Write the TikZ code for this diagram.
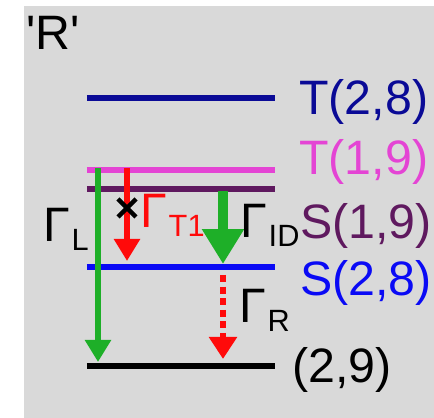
\documentclass[tikz,border=0pt]{standalone}
\usepackage{fontspec}
\setmainfont{Liberation Sans}[Ligatures=TeXOff]
\usetikzlibrary{calc}
\usetikzlibrary{arrows.meta}
\definecolor{bggray}{RGB}{217,217,217}
\definecolor{navylevel}{RGB}{10,10,150}
\definecolor{pinklevel}{RGB}{228,68,212}
\definecolor{plumlevel}{RGB}{95,25,95}
\definecolor{bluelevel}{RGB}{10,10,245}
\definecolor{ratered}{RGB}{255,10,10}
\definecolor{rategreen}{RGB}{30,175,40}
\newcommand{\bigtxt}{\fontsize{27.5}{30}\selectfont}
\newcommand{\subtxt}{\fontsize{17.5}{20}\selectfont}
\newcommand{\rate}[1]{Γ\kern1pt\raisebox{-5pt}{\subtxt #1}}

\begin{document}
\begin{tikzpicture}[x=0.02cm, y=-0.02cm,
  every node/.style={font=\bigtxt, inner sep=0pt, anchor=base west},
  level/.style={line width=3.7pt},
  thinrate/.style={line width=3.9pt, -{Triangle[width=0.5cm,length=0.44cm]}},
  thickrate/.style={line width=6.2pt, -{Triangle[width=0.8cm,length=0.7cm]}},
  dotrate/.style={line width=3.9pt, dash pattern=on 4pt off 2.6pt, -{Triangle[width=0.54cm,length=0.44cm]}}]
	\useasboundingbox (0,0) rectangle (434,418);
	\fill[bggray] (24,6) rectangle (434,418);
	\node (tag) at (26,50) {'R'};

	% levels
	\draw[level, navylevel] (87,98) coordinate (t28w) -- (275,98) coordinate (t28e);
	\draw[level, pinklevel] (87,170) coordinate (t19w) -- (275,170) coordinate (t19e);
	\draw[level, plumlevel] (87,189) coordinate (s19w) -- (275,189) coordinate (s19e);
	\draw[level, bluelevel] (87,267) coordinate (s28w) -- (275,267) coordinate (s28e);
	\draw[level, black] (87,366) coordinate (g29w) -- (275,366) coordinate (g29e);

	\node[navylevel] (t28) at (299,115) {T(2,8)};
	\node[pinklevel] (t19) at (299,175) {T(1,9)};
	\node[plumlevel] (s19) at (300,239) {S(1,9)};
	\node[bluelevel] (s28) at (300,296) {S(2,8)};
	\node (g29) at (292,383) {(2,9)};

	% rates
	\coordinate (lfrom) at (98,168);
	\coordinate (lto) at (98,362);
	\draw[thinrate, rategreen] (lfrom) -- (lto);
	\node (gl) at (43,242) {\rate{L}};

	\coordinate (tfrom) at (127,168);
	\coordinate (tto) at (127,261);
	\draw[thinrate, ratered] (tfrom) -- (tto);
	\coordinate (cross) at (127,208);
	\draw[line width=2.6pt, black] ($(cross)+(-9,-9)$) -- ($(cross)+(9,9)$)
	  ($(cross)+(-9,9)$) -- ($(cross)+(9,-9)$);
	\node[ratered] (gt1) at (140,228) {\rate{T1}};

	\coordinate (idfrom) at (223,191);
	\coordinate (idto) at (223,264);
	\draw[thickrate, rategreen] (idfrom) -- (idto);
	\node (gid) at (240,238) {\rate{ID}};

	\coordinate (rfrom) at (223,275);
	\coordinate (rto) at (223,359);
	\draw[dotrate, ratered] (rfrom) -- (rto);
	\node (gr) at (239,323) {\rate{R}};
\end{tikzpicture}
\end{document}
